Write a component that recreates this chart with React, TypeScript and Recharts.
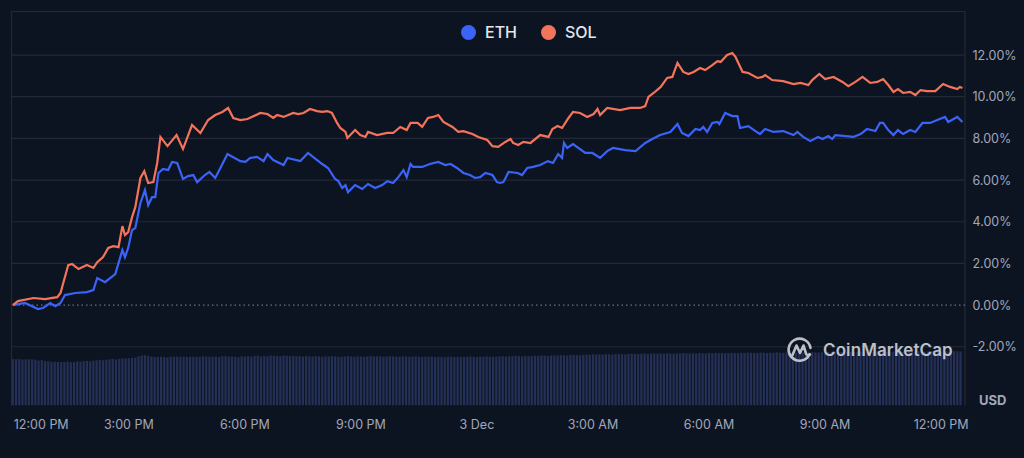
import React from 'react';
import {
  ComposedChart,
  Line,
  Bar,
  XAxis,
  YAxis,
  CartesianGrid,
  ReferenceLine,
} from 'recharts';

// Minutes after 12:00 PM (2 Dec) and % change since the start of the window.
const ethMinutes = [
  0, 19, 39, 47, 58, 66, 74, 81, 97, 115, 125, 131, 143, 159, 170, 174, 179, 185, 190, 198,
  205, 210, 216, 221, 226, 233, 241, 247, 255, 264, 272, 280, 286, 298, 305, 314, 322, 333, 353, 361,
  368, 379, 389, 395, 404, 420, 426, 446, 458, 472, 480, 489, 500, 505, 511, 516, 520, 531, 542, 551,
  562, 573, 581, 590, 598, 606, 611, 617, 621, 635, 647, 660, 671, 679, 689, 699, 709, 717, 725, 733,
  744, 751, 756, 761, 769, 783, 790, 798, 807, 818, 830, 838, 846, 852, 855, 860, 869, 888, 899, 911,
  922, 931, 950, 966, 981, 992, 1004, 1020, 1031, 1038, 1048, 1059, 1066, 1071, 1077, 1085, 1093, 1096, 1105, 1116,
  1124, 1128, 1141, 1152, 1159, 1167, 1180, 1195, 1211, 1217, 1226, 1237, 1249, 1256, 1265, 1271, 1276, 1304, 1315, 1325,
  1338, 1345, 1350, 1358, 1366, 1373, 1381, 1392, 1400, 1411, 1423, 1434, 1446, 1451, 1465, 1473,
];
const ethChange = [
  0, 0.1, -0.19, -0.14, 0.1, -0.05, 0.1, 0.48, 0.58, 0.62, 0.72, 1.3, 1.1, 1.49, 2.64, 2.3, 2.74, 3.6, 3.7, 4.9,
  5.52, 4.8, 5.18, 5.18, 6.34, 6.53, 6.48, 6.87, 6.82, 6.05, 6.19, 6.24, 5.9, 6.24, 6.39, 6.1, 6.58, 7.25, 6.91, 6.87,
  7.06, 7.11, 6.91, 7.25, 6.96, 6.72, 7.06, 6.91, 7.3, 6.96, 6.77, 6.58, 6.05, 5.95, 5.62, 5.76, 5.42, 5.76, 5.57, 5.81,
  5.62, 5.76, 5.95, 5.86, 6.14, 6.48, 6.14, 6.77, 6.63, 6.63, 6.77, 6.87, 6.72, 6.77, 6.58, 6.34, 6.24, 6.1, 6.14, 6.34,
  6.24, 5.9, 5.86, 5.9, 6.39, 6.34, 6.24, 6.58, 6.63, 6.72, 6.91, 6.82, 7.25, 7.06, 7.78, 7.54, 7.73, 7.3, 7.3, 7.06,
  7.39, 7.54, 7.44, 7.39, 7.78, 7.97, 8.16, 8.31, 8.69, 8.26, 8.11, 8.45, 8.4, 8.55, 8.31, 8.74, 8.79, 8.69, 9.22, 9.07,
  9.07, 8.5, 8.59, 8.35, 8.21, 8.45, 8.31, 8.35, 8.16, 8.31, 8.07, 7.87, 8.07, 7.97, 8.11, 7.97, 8.16, 8.07, 8.21, 8.45,
  8.35, 8.74, 8.74, 8.4, 8.16, 8.4, 8.21, 8.4, 8.31, 8.74, 8.74, 8.88, 9.03, 8.79, 9.03, 8.79,
];

const solMinutes = [
  0, 8, 32, 50, 69, 74, 86, 92, 102, 115, 125, 131, 140, 148, 156, 164, 170, 174, 179, 185,
  190, 198, 204, 210, 218, 224, 229, 240, 254, 264, 278, 291, 303, 314, 325, 334, 342, 353, 364, 384,
  395, 404, 410, 420, 435, 443, 451, 461, 472, 480, 488, 495, 503, 508, 516, 519, 531, 539, 547, 551,
  565, 581, 590, 601, 611, 617, 628, 635, 644, 652, 660, 668, 682, 691, 699, 713, 722, 736, 744, 753,
  764, 772, 776, 784, 792, 803, 818, 831, 837, 845, 852, 862, 869, 880, 891, 901, 907, 911, 922, 942,
  958, 973, 981, 986, 994, 1005, 1015, 1023, 1031, 1040, 1048, 1056, 1066, 1074, 1085, 1093, 1098, 1108, 1116, 1121,
  1132, 1141, 1155, 1163, 1167, 1178, 1195, 1211, 1222, 1234, 1240, 1251, 1260, 1273, 1287, 1296, 1307, 1318, 1330, 1341,
  1350, 1358, 1366, 1373, 1381, 1392, 1400, 1408, 1418, 1431, 1443, 1454, 1465, 1469, 1473,
];
const solChange = [
  0, 0.19, 0.34, 0.29, 0.38, 0.58, 1.92, 1.97, 1.73, 1.92, 1.78, 2.06, 2.3, 2.74, 2.83, 2.78, 3.79, 3.36, 3.5, 4.22,
  4.7, 6.1, 6.43, 5.86, 5.9, 6.82, 8.07, 7.63, 8.16, 7.49, 8.64, 8.26, 8.88, 9.12, 9.27, 9.46, 8.98, 8.88, 8.93, 9.22,
  9.17, 8.98, 9.12, 9.03, 9.22, 9.17, 9.22, 9.41, 9.31, 9.27, 9.31, 9.22, 8.74, 8.5, 8.31, 8.02, 8.4, 8.16, 8.07, 8.31,
  8.16, 8.26, 8.26, 8.55, 8.4, 8.74, 8.74, 8.55, 8.98, 9.03, 9.12, 8.79, 8.55, 8.31, 8.35, 8.21, 8.07, 7.92, 7.63, 7.59,
  7.83, 7.97, 7.78, 7.68, 7.83, 7.78, 8.16, 8.07, 8.45, 8.59, 8.5, 8.98, 9.27, 9.22, 9.03, 9.17, 9.41, 9.12, 9.46, 9.36,
  9.46, 9.46, 9.55, 9.99, 10.18, 10.47, 10.9, 10.95, 11.62, 11.19, 11.09, 11.19, 11.38, 11.28, 11.52, 11.71, 11.67, 12.0, 12.1, 11.91,
  11.19, 11.14, 10.9, 10.95, 11.04, 10.8, 10.75, 10.61, 10.66, 10.56, 10.8, 11.09, 10.85, 10.95, 10.71, 10.51, 10.71, 10.95, 10.66, 10.71,
  10.85, 10.56, 10.23, 10.37, 10.18, 10.23, 10.08, 10.32, 10.27, 10.27, 10.61, 10.47, 10.37, 10.47, 10.42,
];

// 5-minute trading volume (billions USD)
const volumeBillions = [
  21.0, 20.9, 21.0, 20.8, 20.9, 20.9, 20.8, 20.7,
  20.3, 20.5, 20.1, 20.0, 19.8, 19.7, 19.7, 19.6, 19.7, 19.8, 19.6, 19.6, 19.9,
  19.8, 20.0, 20.1, 20.0, 20.3, 20.4, 20.6, 20.5, 20.7, 20.9, 21.0, 20.8, 21.1, 21.3, 21.2, 21.4, 21.5, 21.6, 22.3, 22.6,
  22.7, 22.4, 22.1, 21.9, 22.0, 22.0, 21.9, 21.7, 22.0, 22.0, 22.1, 22.0, 22.0, 21.9, 22.0, 22.0, 22.0, 21.9, 22.2, 22.1,
  22.0, 22.0, 22.1, 21.9, 22.3, 22.3, 22.1, 22.2, 22.0, 21.8, 22.2, 22.1, 22.3, 22.0, 22.4, 22.5, 22.2, 22.4, 22.2, 22.6,
  22.5, 22.4, 22.3, 22.6, 22.5, 22.3, 22.4, 22.2, 22.3, 22.1, 22.3, 22.2, 22.1, 22.3, 22.2, 22.0, 22.2, 22.1, 22.3, 22.2,
  22.1, 22.0, 22.2, 22.3, 22.1, 22.0, 22.2, 22.1, 22.0, 22.2, 22.3, 22.1, 22.2, 22.2, 22.0, 22.1, 22.3, 22.2, 22.1, 22.0,
  22.2, 22.1, 22.0, 22.1, 22.2, 22.0, 21.9, 22.1, 22.0, 22.1, 21.9, 22.0, 22.0, 21.8, 22.0, 22.1, 21.9, 22.0, 22.0, 21.9,
  22.0, 22.1, 22.0, 21.9, 22.1, 22.0, 22.2, 22.1, 22.0, 22.1, 22.2, 22.3, 22.1, 22.2, 22.3, 22.4, 22.3, 22.2, 22.4, 22.3,
  22.4, 22.5, 22.4, 22.6, 22.5, 22.4, 22.6, 22.7, 22.6, 22.8, 22.7, 22.6, 22.8, 22.9, 22.8, 22.7, 22.9, 23.0, 22.9, 23.1,
  23.0, 23.1, 23.0, 23.2, 23.1, 23.0, 23.2, 23.3, 23.2, 23.1, 23.3, 23.4, 23.2, 23.3, 23.4, 23.5, 23.3, 23.4, 23.5, 23.4,
  23.5, 23.4, 23.6, 23.5, 23.4, 23.6, 23.5, 23.7, 23.6, 23.5, 23.6, 23.5, 23.7, 23.6, 23.5, 23.7, 23.6, 23.8, 23.6, 23.7,
  23.6, 23.7, 23.8, 23.7, 23.6, 23.8, 23.7, 23.9, 23.8, 23.7, 23.8, 23.9, 23.8, 23.7, 23.9, 23.8, 24.0, 23.9, 23.8, 23.9,
  23.8, 24.0, 23.9, 24.1, 24.0, 23.9, 24.0, 24.1, 24.0, 23.9, 24.1, 24.0, 24.2, 24.1, 24.0, 24.2, 24.1, 24.0, 24.2, 24.1,
  24.2, 24.1, 24.3, 24.2, 24.1, 24.3, 24.2, 24.4, 24.3, 24.2, 24.3, 24.4, 24.3, 24.2, 24.4, 24.3, 24.5, 24.4, 24.3, 24.4,
  24.5, 24.4, 24.3, 24.5, 24.4, 24.6, 24.5, 24.4, 24.6, 24.5, 24.4, 24.6, 24.5, 24.4,
];
const VOLUME_STEP_MIN = 5;

const xTicks = [0, 180, 360, 540, 720, 900, 1080, 1260, 1440];
const xTickLabels = ['12:00 PM', '3:00 PM', '6:00 PM', '9:00 PM', '3 Dec', '3:00 AM', '6:00 AM', '9:00 AM', '12:00 PM'];
const yTicks = [-2, 0, 2, 4, 6, 8, 10, 12];

const X_DOMAIN: [number, number] = [-2, 1477];
const Y_DOMAIN: [number, number] = [-4.82, 14.09];

const ETH_COLOR = '#3b63f8';
const SOL_COLOR = '#f4745b';
const BG = '#0d1421';
const GRID = '#232937';
const LABEL = '#a1a7bb';
const VOL_FILL = '#243055';
const VOL_BAR_WIDTH = 2.2;
const FONT = 'Inter, "Noto Sans", sans-serif';

const ethData = ethMinutes.map((t, i) => ({ t, v: ethChange[i] }));
const solData = solMinutes.map((t, i) => ({ t, v: solChange[i] }));
const volumeData = volumeBillions.map((vol, i) => ({ t: i * VOLUME_STEP_MIN, vol }));

// Volume bar: keep Recharts' centre and height, fixed stripe width.
const VolumeBar = (props: any) => {
  const { x, y, width, height } = props;
  if (height == null || !isFinite(height)) return null;
  const cx = x + (width || 0) / 2;
  return <rect x={cx - VOL_BAR_WIDTH / 2} y={y} width={VOL_BAR_WIDTH} height={height} fill={VOL_FILL} />;
};

const XTick = (props: any) => {
  const { x, y, index } = props;
  const first = index === 0;
  return (
    <text
      x={first ? x + 1 : x}
      y={y + 23.5}
      textAnchor={first ? 'start' : 'middle'}
      fill={LABEL}
      fontSize={12.5}
      fontFamily={FONT}
    >
      {xTickLabels[index]}
    </text>
  );
};

const YTick = (props: any) => {
  const { x, y, payload } = props;
  return (
    <text x={x + 7.5} y={y + 4.5} textAnchor="start" fill={LABEL} fontSize={12.5} fontFamily={FONT}>
      {`${Number(payload.value).toFixed(2)}%`}
    </text>
  );
};

const LegendItem = ({ color, label }: { color: string; label: string }) => (
  <div style={{ display: 'flex', alignItems: 'center', gap: 9 }}>
    <div style={{ width: 15, height: 15, borderRadius: '50%', background: color }} />
    <span style={{ color: '#e3e6ec', fontSize: 16, fontWeight: 500, fontFamily: FONT }}>{label}</span>
  </div>
);

const CmcMark = () => (
  <div
    style={{
      position: 'absolute',
      left: 786,
      top: 336,
      display: 'flex',
      alignItems: 'center',
      gap: 9,
      opacity: 0.88,
    }}
  >
    <svg width={28} height={28} viewBox="0 0 28 28">
      <path
        d="M23.5 18.5 A11 11 0 1 1 24.5 12"
        fill="none"
        stroke="#d4d7de"
        strokeWidth={2.6}
        strokeLinecap="round"
      />
      <path
        d="M6.5 19 L10.5 9.5 L14 17 L17.5 9.5 L20 17.5 Q21 20 24 18.5"
        fill="none"
        stroke="#d4d7de"
        strokeWidth={2.6}
        strokeLinejoin="round"
        strokeLinecap="round"
      />
    </svg>
    <span style={{ color: '#d4d7de', fontSize: 17, fontWeight: 600, fontFamily: FONT, letterSpacing: 0.1 }}>
      CoinMarketCap
    </span>
  </div>
);

export default function App() {
  return (
    <div
      style={{
        position: 'absolute',
        left: 0,
        top: 0,
        width: 1024,
        height: 458,
        background: BG,
        overflow: 'hidden',
      }}
    >
      <ComposedChart
        width={1024}
        height={458}
        data={volumeData}
        margin={{ top: 11.5, right: 0, bottom: 22.5, left: 11.5 }}
      >
        <CartesianGrid
          stroke={GRID}
          strokeWidth={1.2}
          yAxisId="pct"
          horizontalValues={[-2, 2, 4, 6, 8, 10, 12, Y_DOMAIN[1]]}
          verticalCoordinatesGenerator={(p: any) => [p.offset.left, p.offset.left + p.offset.width]}
        />
        <XAxis
          dataKey="t"
          type="number"
          domain={X_DOMAIN}
          ticks={xTicks}
          interval={0}
          allowDataOverflow
          axisLine={false}
          tickLine={false}
          tickSize={0}
          tickMargin={0}
          height={30}
          tick={<XTick />}
        />
        <YAxis
          yAxisId="pct"
          orientation="right"
          type="number"
          domain={Y_DOMAIN}
          ticks={yTicks}
          interval={0}
          allowDataOverflow
          axisLine={false}
          tickLine={false}
          tickSize={0}
          tickMargin={0}
          width={59}
          tick={<YTick />}
        />
        <YAxis yAxisId="vol" hide type="number" domain={[0, 178]} allowDataOverflow />
        <Bar
          yAxisId="vol"
          dataKey="vol"
          fill={VOL_FILL}
          shape={<VolumeBar />}
          isAnimationActive={false}
        />
        <ReferenceLine yAxisId="pct" y={0} stroke="#687085" strokeDasharray="1.5 3" strokeWidth={1.2} />
        <Line
          yAxisId="pct"
          data={ethData}
          dataKey="v"
          type="linear"
          stroke={ETH_COLOR}
          strokeWidth={2.2}
          dot={false}
          isAnimationActive={false}
        />
        <Line
          yAxisId="pct"
          data={solData}
          dataKey="v"
          type="linear"
          stroke={SOL_COLOR}
          strokeWidth={2.2}
          dot={false}
          isAnimationActive={false}
        />
      </ComposedChart>

      <div
        style={{
          position: 'absolute',
          top: 22,
          left: 461,
          display: 'flex',
          gap: 24,
        }}
      >
        <LegendItem color={ETH_COLOR} label="ETH" />
        <LegendItem color={SOL_COLOR} label="SOL" />
      </div>

      <CmcMark />

      <div
        style={{
          position: 'absolute',
          left: 979,
          top: 392,
          color: LABEL,
          fontSize: 13,
          fontWeight: 700,
          fontFamily: FONT,
        }}
      >
        USD
      </div>
    </div>
  );
}
